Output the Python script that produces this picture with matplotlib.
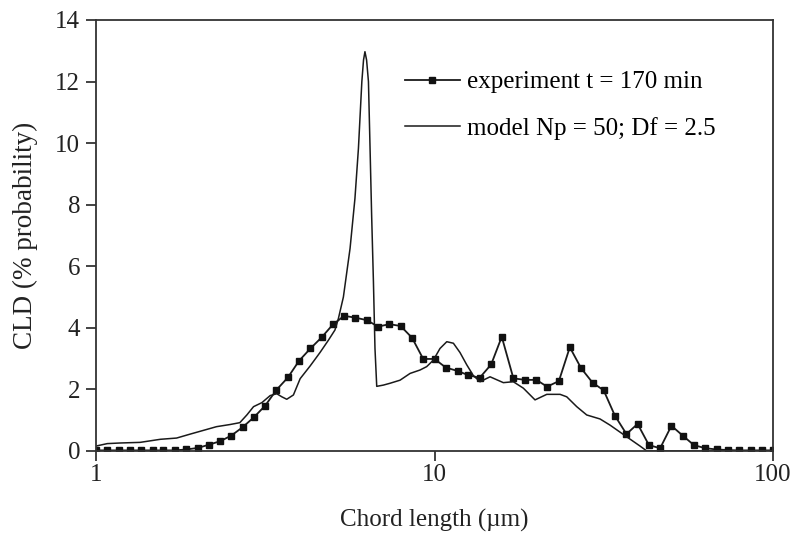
import matplotlib
matplotlib.use("Agg")
import matplotlib.pyplot as plt

plt.rcParams['font.family'] = ['Liberation Serif', 'DejaVu Serif']

# Experiment (FBRM chord length distribution, t = 170 min)
exp_x = [1.00, 1.08, 1.17, 1.26, 1.36, 1.47, 1.58, 1.71, 1.85, 2.00,
         2.15, 2.33, 2.51, 2.71, 2.93, 3.16, 3.41, 3.69, 3.98, 4.30,
         4.64, 5.01, 5.41, 5.84, 6.31, 6.81, 7.36, 7.94, 8.58, 9.26,
         10.0, 10.8, 11.7, 12.6, 13.6, 14.7, 15.8, 17.1, 18.5, 20.0,
         21.5, 23.3, 25.1, 27.1, 29.3, 31.6, 34.1, 36.9, 39.8, 43.0,
         46.4, 50.1, 54.1, 58.4, 63.1, 68.1, 73.6, 79.4, 85.8, 92.6, 100.0]
exp_y = [0.02, 0.02, 0.02, 0.02, 0.02, 0.02, 0.02, 0.02, 0.05, 0.10,
         0.20, 0.32, 0.50, 0.77, 1.10, 1.47, 1.98, 2.39, 2.93, 3.33,
         3.69, 4.11, 4.39, 4.33, 4.25, 4.04, 4.12, 4.06, 3.68, 2.99,
         2.99, 2.71, 2.60, 2.46, 2.38, 2.81, 3.71, 2.36, 2.31, 2.31,
         2.09, 2.27, 3.37, 2.69, 2.22, 1.97, 1.15, 0.55, 0.88, 0.19,
         0.09, 0.82, 0.50, 0.19, 0.09, 0.05, 0.03, 0.02, 0.02, 0.02, 0.02]

# Model Np = 50; Df = 2.5
model_x = [1.00, 1.08, 1.18, 1.35, 1.55, 1.73, 1.90, 2.27, 2.49, 2.66,
           2.79, 2.92, 3.09, 3.27, 3.42, 3.54, 3.66, 3.83, 4.01, 4.29,
           4.59, 4.86, 5.08, 5.20, 5.38, 5.63, 5.82, 5.96, 6.10, 6.17,
           6.23, 6.30, 6.38, 6.45, 6.52, 6.60, 6.67, 6.75, 7.06, 7.39,
           7.91, 8.47, 9.06, 9.48, 9.92, 10.38, 10.87, 11.37, 11.89, 12.45,
           13.02, 13.63, 14.59, 15.97, 17.09, 18.30, 19.81, 21.46, 23.49, 24.58,
           26.31, 28.16, 30.83, 33.00, 36.97, 40.47, 42.36, 100.0]
model_y = [0.16, 0.24, 0.26, 0.28, 0.38, 0.42, 0.55, 0.79, 0.86, 0.92,
           1.17, 1.44, 1.57, 1.80, 1.86, 1.76, 1.68, 1.82, 2.35, 2.76,
           3.20, 3.60, 3.93, 4.30, 5.00, 6.58, 8.20, 9.83, 12.00, 12.70,
           12.97, 12.70, 12.00, 9.84, 7.66, 5.50, 3.33, 2.10, 2.14, 2.20,
           2.30, 2.52, 2.63, 2.74, 2.95, 3.33, 3.55, 3.50, 3.20, 2.80,
           2.45, 2.25, 2.41, 2.22, 2.25, 2.04, 1.66, 1.84, 1.84, 1.76,
           1.44, 1.17, 1.04, 0.84, 0.46, 0.16, 0.00, 0.00]

y_ticks = [0, 2, 4, 6, 8, 10, 12, 14]
x_ticks = [1, 10, 100]
x_ticklabels = ['1', '10', '100']

fig = plt.figure(figsize=(7.94, 5.36), dpi=100)
ax = fig.add_axes([0.1209, 0.1586, 0.8527, 0.8041])

ax.plot(exp_x, exp_y, color='#1a1a1a', lw=1.3, marker='s', markersize=5,
        markerfacecolor='#111111', markeredgecolor='#111111',
        label='experiment t = 170 min')
ax.plot(model_x, model_y, color='#1a1a1a', lw=1.1,
        label='model Np = 50; Df = 2.5')

ax.set_xscale('log')
ax.set_xlim(1, 100)
ax.set_ylim(0, 14)
ax.set_xticks(x_ticks)
ax.set_xticklabels(x_ticklabels)
ax.xaxis.set_minor_locator(matplotlib.ticker.NullLocator())
ax.set_yticks(y_ticks)

ax.tick_params(axis='both', which='major', direction='out', length=7.5,
               width=1.2, labelsize=18, colors='#222222', pad=4)
ax.tick_params(axis='x', pad=2)
for s in ax.spines.values():
    s.set_linewidth(1.3)
    s.set_color('#333333')

ax.set_xlabel('Chord length (\u00b5m)', fontsize=18, color='#222222', labelpad=16)
ax.set_ylabel('CLD (% probability)', fontsize=19.5, color='#222222', labelpad=12)

ax.legend(loc='upper left', bbox_to_anchor=(0.456, 0.882), frameon=False,
          fontsize=18, numpoints=1, handlelength=2.2, handletextpad=0.3,
          labelspacing=0.95, borderpad=0, borderaxespad=0)

fig.savefig('out.png', dpi=100)
